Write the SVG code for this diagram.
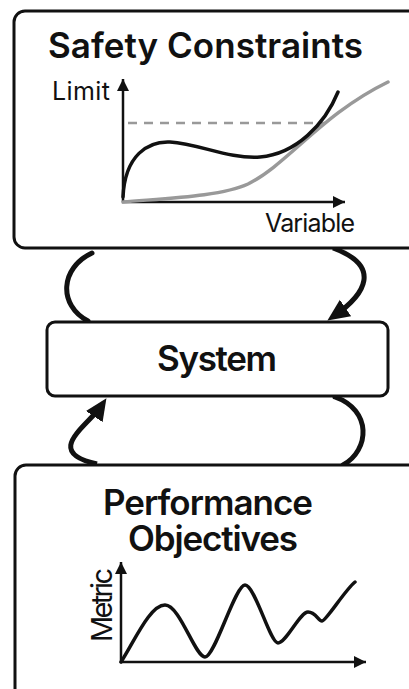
<svg xmlns="http://www.w3.org/2000/svg" width="409" height="689" viewBox="0 0 409 689">
  <style>
    .box { fill: #fff; stroke: #111; stroke-width: 3; }
    .txt { font-family: Inter, "Liberation Sans", Arial, sans-serif; fill: #111; }
    .title { font-size: 35px; font-weight: 600; }
    .label { font-size: 25px; font-weight: 400; }
    .vlabel { font-size: 29px; font-weight: 400; }
    .axis { fill: none; stroke: #111; stroke-width: 2.5; }
    .loop { fill: none; stroke: #111; stroke-width: 5; stroke-linecap: round; }
    .arrow { stroke-linecap: butt; }
    .curve { fill: none; stroke-width: 3.5; stroke-linecap: round; }
  </style>
  <defs>
    <marker id="axisHead" markerUnits="userSpaceOnUse" markerWidth="14" markerHeight="14" refX="12" refY="6" orient="auto">
      <path d="M0,0 L12,6 L0,12 Z" fill="#111"/>
    </marker>
    <marker id="loopHead" markerUnits="userSpaceOnUse" markerWidth="24" markerHeight="22" refX="14" refY="10" orient="auto">
      <path d="M0,0 L22,10 L0,20 Z" fill="#111"/>
    </marker>
  </defs>

  <rect width="409" height="689" fill="#fff"/>

  <!-- feedback loops between the system and its two frames -->
  <g id="connectors">
    <path class="loop" d="M92,253 C60,268 58,305 88,321"/>
    <path class="loop arrow" d="M333,248 C382,266 366,294 334,316" marker-end="url(#loopHead)"/>
    <path class="loop arrow" d="M97,464 C42,452 88,426 102,405" marker-end="url(#loopHead)"/>
    <path class="loop" d="M335,397 C372,410 370,450 343,465"/>
  </g>

  <g id="safety-constraints">
    <rect class="box" x="14" y="11" width="430" height="237" rx="11"/>
    <text class="txt title" x="48" y="58" textLength="315">Safety Constraints</text>
    <text class="txt label" x="52" y="100" textLength="58">Limit</text>
    <text class="txt label" x="265" y="232" textLength="90">Variable</text>
    <line x1="123" y1="202" x2="123" y2="79" class="axis" marker-end="url(#axisHead)"/>
    <line x1="122" y1="202" x2="345" y2="202" class="axis" marker-end="url(#axisHead)"/>
    <line x1="128" y1="123" x2="325" y2="123" stroke="#999" stroke-width="2.5" stroke-dasharray="9 7"/>
    <path class="curve" stroke="#999" d="M123,202 C170,198 222,196 248,184 C288,164 322,114 388,82"/>
    <path class="curve" stroke="#111" d="M123,197 C125,155 148,141 170,142 C200,144 228,159 260,157 C296,154 325,124 338,92"/>
  </g>

  <g id="system">
    <rect class="box" x="47" y="322" width="341" height="74" rx="8"/>
    <text class="txt title" x="157" y="371" textLength="120">System</text>
  </g>

  <g id="performance-objectives">
    <rect class="box" x="15" y="465" width="430" height="240" rx="11"/>
    <text class="txt title" x="103" y="515" textLength="210">Performance</text>
    <text class="txt title" x="128" y="551" textLength="170">Objectives</text>
    <text class="txt vlabel" transform="translate(112,642) rotate(-90)" textLength="74">Metric</text>
    <line x1="121" y1="663" x2="121" y2="562" class="axis" marker-end="url(#axisHead)"/>
    <line x1="120" y1="662" x2="366" y2="662" class="axis" marker-end="url(#axisHead)"/>
    <path class="curve" stroke="#111" d="M121,662 C135,640 150,605 165,605 S195,657 205,657 S235,585 245,585 S270,643 278,643 S300,612 308,612 S318,621 322,621 S345,590 355,582"/>
  </g>
</svg>
